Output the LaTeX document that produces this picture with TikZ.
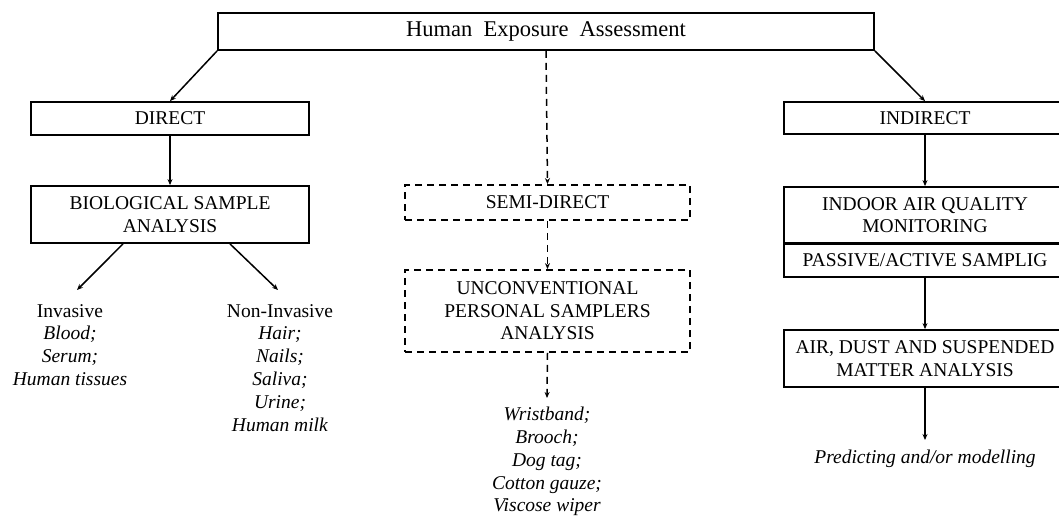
\documentclass[tikz,border=0pt]{standalone}
\usepackage{fontspec}
\setmainfont{Liberation Serif}
\usetikzlibrary{arrows.meta}
\begin{document}
\begin{tikzpicture}[x=1pt,y=-1pt,
  box/.style={draw,line width=1.8pt,inner sep=0pt,align=center,font=\fontsize{19.5}{22.5}\selectfont},
  dbox/.style={box,dash pattern=on 7pt off 5pt},
  lbl/.style={inner sep=0pt,align=center,anchor=north,font=\fontsize{19.5}{22.8}\selectfont},
  arr/.style={line width=1.5pt,-{Stealth[length=6pt,width=5pt]}},
  darr/.style={arr,dash pattern=on 7pt off 5pt}]
\useasboundingbox (0,0) rectangle (1059,515);
\clip (0,0) rectangle (1059,515);
% boxes
\node[box,minimum width=656pt,minimum height=37pt,font=\fontsize{22.5}{26}\selectfont] (top) at (546,31.5) {Human\ \ Exposure\ \ Assessment};
\node[box,minimum width=278pt,minimum height=33pt] (direct) at (170,118.5) {DIRECT};
\node[box,minimum width=278pt,minimum height=57pt] (bio) at (170,214.5) {BIOLOGICAL SAMPLE\\ANALYSIS};
\node[dbox,minimum width=285pt,minimum height=35pt] (semi) at (547.5,202.5) {SEMI-DIRECT};
\node[dbox,minimum width=285pt,minimum height=82pt] (unconv) at (547.5,311) {UNCONVENTIONAL\\PERSONAL SAMPLERS\\ANALYSIS};
\node[box,minimum width=282pt,minimum height=32pt] (indirect) at (925,118) {INDIRECT};
\node[box,minimum width=282pt,minimum height=56pt] (indoor) at (925,215) {INDOOR AIR QUALITY\\MONITORING};
\node[box,minimum width=282pt,minimum height=34pt] (passive) at (925,260) {PASSIVE/ACTIVE SAMPLIG};
\node[box,minimum width=282pt,minimum height=57pt] (air) at (925,358.5) {AIR, DUST AND SUSPENDED\\MATTER ANALYSIS};
\draw[line width=3pt] (indoor.south west) -- (indoor.south east);
% labels
\node[lbl] (inv) at (70,304) {Invasive\\\textit{Blood;}\\\textit{Serum;}\\\textit{Human tissues}};
\node[lbl] (noninv) at (280,304) {Non-Invasive\\\textit{Hair;}\\\textit{Nails;}\\\textit{Saliva;}\\\textit{Urine;}\\\textit{Human milk}};
\node[lbl] (samplers) at (547,407) {\textit{Wristband;}\\\textit{Brooch;}\\\textit{Dog tag;}\\\textit{Cotton gauze;}\\\textit{Viscose wiper}};
\node[lbl] (pred) at (925,450) {\textit{Predicting and/or modelling}};
% tips
\coordinate (invtip) at (77,290);
\coordinate (ninvtip) at (278,290);
\coordinate (samptip) at (547,398);
\coordinate (predtip) at (925,440);
% connectors
\draw[arr] (top.south west) -- (direct.north);
\draw[arr] (top.south east) -- (indirect.north);
\draw[darr] (top.south) -- (semi.north);
\draw[arr] (direct.south) -- (bio.north);
\draw[arr] ([xshift=-47pt]bio.south) -- (invtip);
\draw[arr] ([xshift=60pt]bio.south) -- (ninvtip);
\draw[darr] (semi.south) -- (unconv.north);
\draw[darr] (unconv.south) -- (samptip);
\draw[arr] (indirect.south) -- (indoor.north);
\draw[arr] (passive.south) -- (air.north);
\draw[arr] (air.south) -- (predtip);
\end{tikzpicture}
\end{document}
